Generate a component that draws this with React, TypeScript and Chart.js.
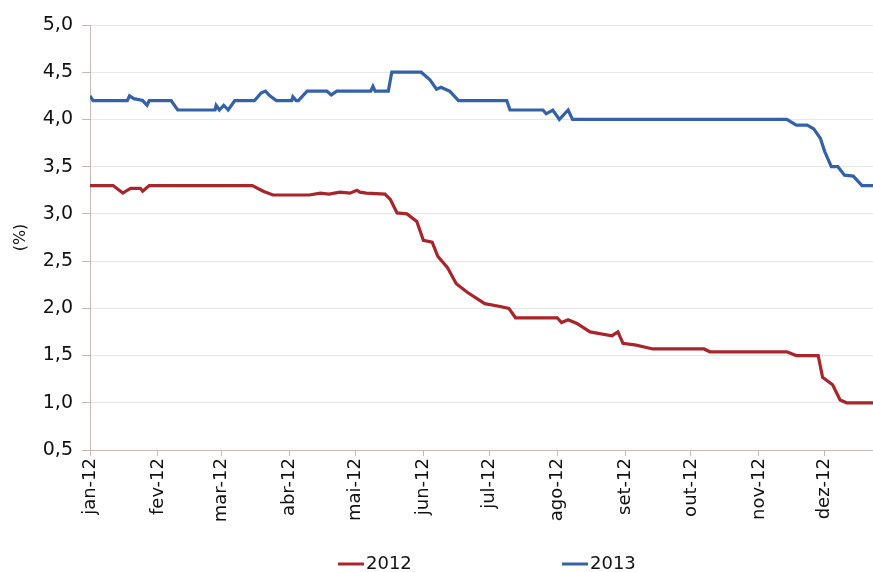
import React, { useEffect, useRef } from "react";
import { Chart, registerables } from "chart.js";

Chart.register(...registerables);

// Month tick labels and their day-of-year positions
const monthLabels = ["jan-12", "fev-12", "mar-12", "abr-12", "mai-12", "jun-12", "jul-12", "ago-12", "set-12", "out-12", "nov-12", "dez-12"];
const monthDays = [0, 31, 60, 91, 121, 152, 182, 213, 244, 274, 305, 335];

// Series "2012" (red): day-of-year and value (%)
const days2012 = [0, 10.5, 15, 17, 18.5, 23, 24, 27, 74, 79, 83.4, 100, 105, 109, 114, 118.5, 121.7, 123, 126, 134.5, 137, 140, 144.5, 149, 152, 156, 158.6, 163, 167, 172, 180, 187, 191, 194, 213, 215, 218, 222, 228, 238, 240.7, 243, 249, 256.6, 280, 282.6, 317.7, 322, 332, 334, 338.6, 342, 345, 357];
const values2012 = [3.3, 3.3, 3.22, 3.25, 3.27, 3.27, 3.24, 3.3, 3.3, 3.24, 3.2, 3.2, 3.22, 3.21, 3.23, 3.22, 3.25, 3.23, 3.22, 3.21, 3.15, 3.01, 3.0, 2.92, 2.72, 2.7, 2.55, 2.43, 2.26, 2.17, 2.05, 2.02, 2.0, 1.9, 1.9, 1.85, 1.88, 1.84, 1.75, 1.71, 1.75, 1.63, 1.61, 1.57, 1.57, 1.54, 1.54, 1.5, 1.5, 1.27, 1.19, 1.03, 1.0, 1.0];

// Series "2013" (blue): day-of-year and value (%)
const days2013 = [0, 1.4, 17, 18, 20, 24, 26, 27, 37, 40, 57, 57.5, 59, 61, 63, 66, 75, 78, 80, 82, 85, 92, 92.5, 94, 95, 99, 108, 110, 112.5, 128, 129, 130, 136, 137.6, 151, 155, 158, 160, 163, 164, 168, 190, 191.5, 206.5, 208, 211, 214, 218, 220, 317.7, 322, 327, 330, 333, 335, 338, 341, 344, 348, 352, 357];
const values2013 = [4.25, 4.2, 4.2, 4.25, 4.22, 4.2, 4.15, 4.2, 4.2, 4.1, 4.1, 4.15, 4.1, 4.15, 4.1, 4.2, 4.2, 4.28, 4.3, 4.25, 4.2, 4.2, 4.24, 4.2, 4.2, 4.3, 4.3, 4.26, 4.3, 4.3, 4.35, 4.3, 4.3, 4.5, 4.5, 4.42, 4.32, 4.34, 4.31, 4.3, 4.2, 4.2, 4.1, 4.1, 4.06, 4.1, 4.0, 4.1, 4.0, 4.0, 3.94, 3.94, 3.9, 3.8, 3.66, 3.5, 3.5, 3.41, 3.4, 3.3, 3.3];

const yTicks = [0.5, 1.0, 1.5, 2.0, 2.5, 3.0, 3.5, 4.0, 4.5, 5.0];

const RED = "#a8262b";
const BLUE = "#3462a8";
const TEXT = "#111111";
const FONT = "'DejaVu Sans', sans-serif";

const legendPlugin = {
  id: "customLegend",
  afterDraw(chart: any) {
    const ctx = chart.ctx;
    const items = [
      { label: chart.data.datasets[0].label, color: RED, x: 338 },
      { label: chart.data.datasets[1].label, color: BLUE, x: 562 },
    ];
    ctx.save();
    ctx.font = `18px ${FONT}`;
    ctx.textBaseline = "middle";
    ctx.textAlign = "left";
    items.forEach((it) => {
      ctx.strokeStyle = it.color;
      ctx.lineWidth = 3;
      ctx.beginPath();
      ctx.moveTo(it.x, 564);
      ctx.lineTo(it.x + 26, 564);
      ctx.stroke();
      ctx.fillStyle = TEXT;
      ctx.fillText(it.label, it.x + 28, 564);
    });
    ctx.restore();
  },
};

export default function App() {
  const ref = useRef<HTMLCanvasElement | null>(null);
  useEffect(() => {
    if (!ref.current) return;
    const chart = new Chart(ref.current, {
      type: "line",
      data: {
        datasets: [
          {
            label: "2012",
            data: days2012.map((d, i) => ({ x: d, y: values2012[i] })),
            borderColor: RED,
            borderWidth: 3.2,
            pointRadius: 0,
            tension: 0,
            fill: false,
          },
          {
            label: "2013",
            data: days2013.map((d, i) => ({ x: d, y: values2013[i] })),
            borderColor: BLUE,
            borderWidth: 3.2,
            pointRadius: 0,
            tension: 0,
            fill: false,
          },
        ],
      },
      options: {
        animation: false,
        responsive: false,
        maintainAspectRatio: false,
        layout: { padding: { top: 25, right: 0, bottom: 0, left: 0 } },
        plugins: {
          legend: { display: false },
          tooltip: { enabled: false },
        },
        scales: {
          x: {
            type: "linear",
            min: 0,
            max: 357,
            afterBuildTicks: (scale: any) => {
              scale.ticks = monthDays.map((v) => ({ value: v }));
            },
            afterFit: (scale: any) => {
              scale.height = 122;
            },
            ticks: {
              autoSkip: false,
              minRotation: 90,
              maxRotation: 90,
              padding: 2,
              color: TEXT,
              font: { family: FONT, size: 18 },
              callback: (value: any) => {
                const i = monthDays.indexOf(Number(value));
                return i >= 0 ? monthLabels[i] : "";
              },
            },
            grid: {
              display: true,
              drawOnChartArea: false,
              drawTicks: true,
              tickLength: 6,
              tickColor: "#c9b6b6",
            },
            border: { display: true, color: "#c9b6b6", width: 1 },
          },
          y: {
            type: "linear",
            min: 0.5,
            max: 5.0,
            afterBuildTicks: (scale: any) => {
              scale.ticks = yTicks.map((v) => ({ value: v }));
            },
            afterFit: (scale: any) => {
              scale.width = 90;
            },
            ticks: {
              padding: 9,
              color: TEXT,
              font: { family: FONT, size: 19 },
              callback: (value: any) => Number(value).toFixed(1).replace(".", ","),
            },
            grid: {
              color: (ctx: any) => (ctx.tick && ctx.tick.value === 0.5 ? "rgba(0,0,0,0)" : "#e6e6e6"),
              lineWidth: 1,
              drawTicks: true,
              tickLength: 8,
              tickColor: "#c9b6b6",
            },
            border: { display: true, color: "#c9b6b6", width: 1 },
            title: {
              display: true,
              text: "(%)",
              color: TEXT,
              font: { family: FONT, size: 16 },
              padding: { top: 11, bottom: 0 },
            },
          },
        },
      },
      plugins: [legendPlugin],
    });
    return () => chart.destroy();
  }, []);

  return (
    <div style={{ position: "fixed", left: 0, top: 0, width: 873, height: 572, background: "#fff" }}>
      <canvas ref={ref} width={873} height={572} style={{ display: "block", width: 873, height: 572 }} />
    </div>
  );
}
